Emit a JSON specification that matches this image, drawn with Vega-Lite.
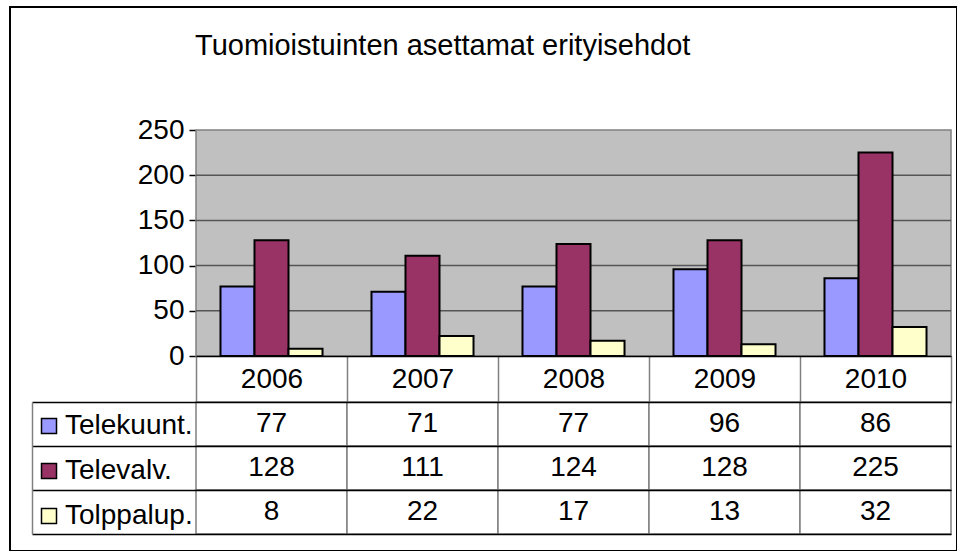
{
  "$schema": "https://vega.github.io/schema/vega-lite/v6.json",
  "width": 947,
  "height": 544,
  "autosize": {"type": "none"},
  "padding": {"left": 10, "top": 7, "right": 0, "bottom": 0},
  "background": "white",
  "config": {
    "font": "Liberation Sans",
    "view": {"stroke": "black", "strokeWidth": 2},
    "axis": {"title": null, "grid": false, "labelFont": "Liberation Sans", "labelColor": "black"}
  },
  "title": {
    "text": "Tuomioistuinten asettamat erityisehdot",
    "anchor": "start",
    "frame": "group",
    "orient": "top",
    "offset": -77,
    "baseline": "alphabetic",
    "dx": 185,
    "fontSize": 29,
    "fontWeight": "normal",
    "color": "black",
    "font": "Liberation Sans"
  },
  "datasets": {
    "d": [
      {"year": "2006", "series": "Telekuunt.", "value": 77},
      {"year": "2006", "series": "Televalv.", "value": 128},
      {"year": "2006", "series": "Tolppalup.", "value": 8},
      {"year": "2007", "series": "Telekuunt.", "value": 71},
      {"year": "2007", "series": "Televalv.", "value": 111},
      {"year": "2007", "series": "Tolppalup.", "value": 22},
      {"year": "2008", "series": "Telekuunt.", "value": 77},
      {"year": "2008", "series": "Televalv.", "value": 124},
      {"year": "2008", "series": "Tolppalup.", "value": 17},
      {"year": "2009", "series": "Telekuunt.", "value": 96},
      {"year": "2009", "series": "Televalv.", "value": 128},
      {"year": "2009", "series": "Tolppalup.", "value": 13},
      {"year": "2010", "series": "Telekuunt.", "value": 86},
      {"year": "2010", "series": "Televalv.", "value": 225},
      {"year": "2010", "series": "Tolppalup.", "value": 32}
    ]
  },
  "layer": [
    {
      "data": {"values": [{}]},
      "mark": {"type": "rect", "fill": "#C0C0C0", "stroke": "#808080", "strokeWidth": 1.5},
      "encoding": {
        "x": {"datum": 0, "type": "quantitative", "scale": {"domain": [0, 1], "range": [186, 941]}, "axis": null},
        "x2": {"datum": 1},
        "y": {"datum": 0, "type": "quantitative", "scale": {"domain": [0, 250], "range": [349, 123]}, "axis": null},
        "y2": {"datum": 250}
      }
    },
    {
      "data": {"values": [{"level": 50}, {"level": 100}, {"level": 150}, {"level": 200}]},
      "mark": {"type": "rule", "stroke": "#555555", "strokeWidth": 1.5},
      "encoding": {
        "x": {"datum": 0, "type": "quantitative", "scale": {"domain": [0, 1], "range": [186, 941]}, "axis": null},
        "x2": {"datum": 1},
        "y": {"field": "level", "type": "quantitative", "scale": {"domain": [0, 250], "range": [349, 123]}, "axis": null}
      }
    },
    {
      "data": {"name": "d"},
      "mark": {"type": "bar", "stroke": "black", "strokeWidth": 2},
      "encoding": {
        "x": {
          "field": "year", "type": "nominal",
          "scale": {"domain": ["2006", "2007", "2008", "2009", "2010"], "range": [186, 941], "paddingInner": 0, "paddingOuter": 0},
          "axis": {"orient": "bottom", "offset": -195, "tickBand": "extent", "tickSize": 46, "tickColor": "#808080", "tickWidth": 1.5, "domainColor": "black", "domainWidth": 1.5, "labelPadding": -23, "labelBaseline": "middle", "labelFontSize": 28, "labelAngle": 0, "zindex": 1}
        },
        "xOffset": {
          "field": "series", "type": "nominal",
          "scale": {"domain": ["Telekuunt.", "Televalv.", "Tolppalup."], "paddingInner": 0, "paddingOuter": 0.72}
        },
        "y": {
          "field": "value", "type": "quantitative",
          "scale": {"domain": [0, 250], "range": [349, 123]},
          "axis": {"orient": "left", "offset": -186, "values": [0, 50, 100, 150, 200, 250], "tickSize": 7, "tickColor": "black", "tickWidth": 1.5, "domain": false, "labelFontSize": 28, "labelPadding": 5, "labelBaseline": "middle"}
        },
        "color": {
          "field": "series", "type": "nominal",
          "scale": {"domain": ["Telekuunt.", "Televalv.", "Tolppalup."], "range": ["#9999FF", "#993366", "#FFFFCC"]},
          "legend": {"orient": "none", "legendX": 25, "legendY": 405, "title": null, "symbolType": "square", "symbolSize": 225, "symbolStrokeColor": "black", "symbolStrokeWidth": 1.5, "symbolOpacity": 1, "labelFontSize": 28, "labelFont": "Liberation Sans", "labelColor": "black", "labelOffset": 2, "rowPadding": 17, "padding": 0}
        }
      }
    },
    {
      "data": {"name": "d"},
      "mark": {"type": "rect", "fill": "white", "stroke": "#808080", "strokeWidth": 1.5},
      "encoding": {
        "x": {"field": "year", "type": "nominal", "scale": {"domain": ["2006", "2007", "2008", "2009", "2010"], "range": [186, 941], "paddingInner": 0, "paddingOuter": 0}, "axis": null},
        "y": {
          "field": "series", "type": "nominal",
          "scale": {"domain": ["Telekuunt.", "Televalv.", "Tolppalup."], "range": [395, 527], "paddingInner": 0, "paddingOuter": 0},
          "axis": {"orient": "left", "offset": -22, "tickBand": "extent", "tickSize": -919, "tickColor": "black", "tickWidth": 1.5, "domainColor": "#808080", "domainWidth": 1.5, "labels": false, "zindex": 1}
        }
      }
    },
    {
      "data": {"name": "d"},
      "mark": {"type": "text", "fontSize": 28, "font": "Liberation Sans", "color": "black", "baseline": "middle"},
      "encoding": {
        "x": {"field": "year", "type": "nominal", "scale": {"domain": ["2006", "2007", "2008", "2009", "2010"], "range": [186, 941], "paddingInner": 0, "paddingOuter": 0}, "axis": null},
        "y": {"field": "series", "type": "nominal", "scale": {"domain": ["Telekuunt.", "Televalv.", "Tolppalup."], "range": [395, 527], "paddingInner": 0, "paddingOuter": 0}, "axis": null},
        "text": {"field": "value", "type": "quantitative"}
      }
    }
  ],
  "resolve": {
    "scale": {"x": "independent", "y": "independent", "color": "independent", "xOffset": "independent"},
    "axis": {"x": "independent", "y": "independent"}
  }
}
